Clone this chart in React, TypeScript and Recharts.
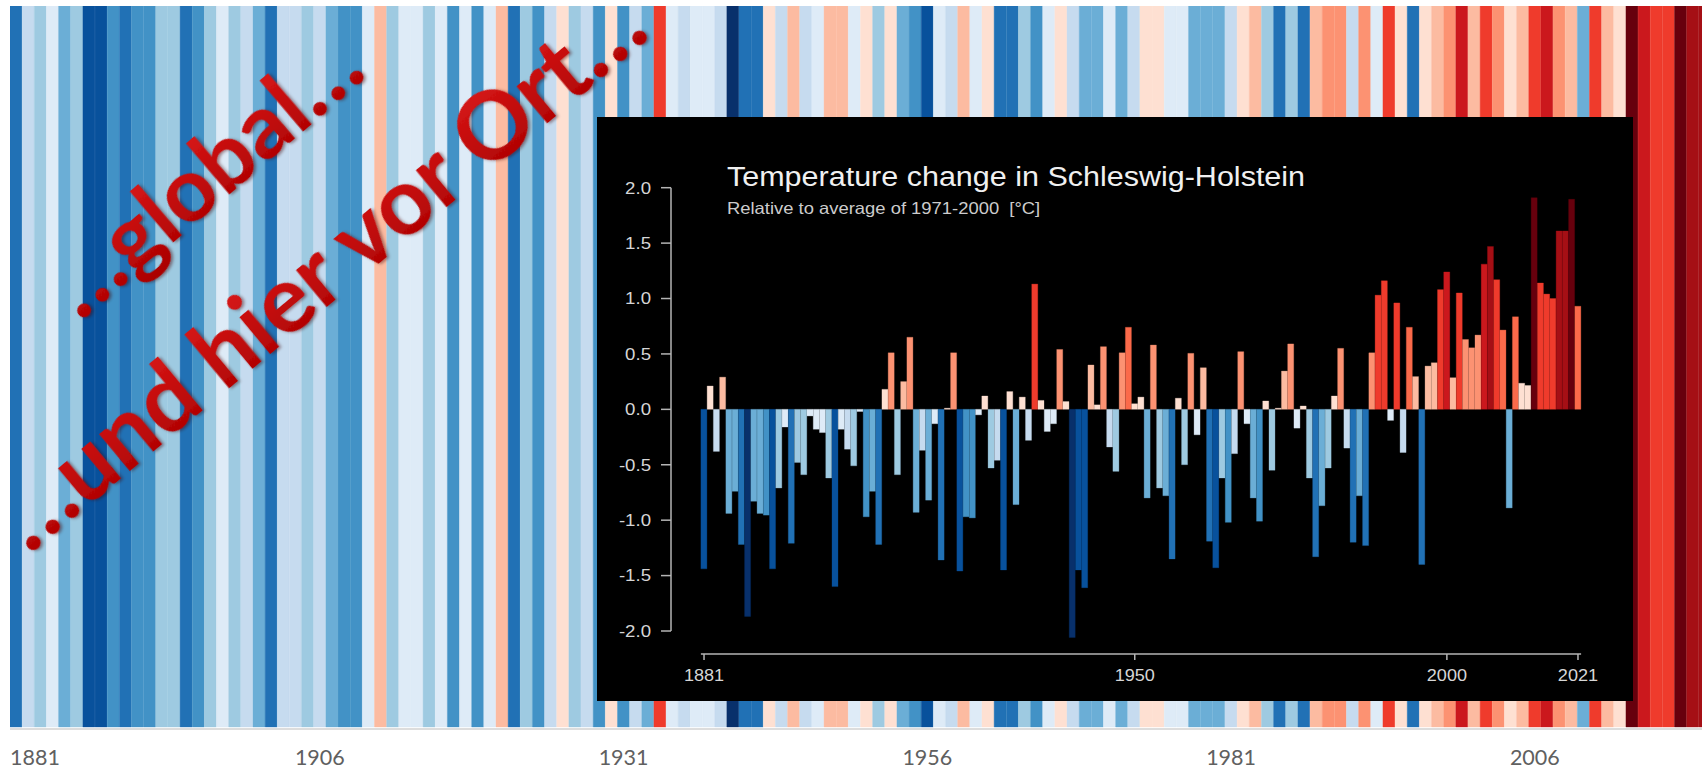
import React from 'react';
import { BarChart, Bar, XAxis, YAxis, Cell } from 'recharts';

// ---------- background warming stripes ----------
const stripeYears: number[] = [];
for (let y = 1881; y <= 2020; y++) stripeYears.push(y);

const stripeAnomaly: number[] = [
  -1.4, -0.4, -0.6, -0.1, -0.9, -0.6, -1.6, -1.65, -1.1, -1.35,
  -1.15, -1.05, -0.65, -0.6, -1.4, -1.1, -0.6, -0.15, -0.6, -0.4,
  -0.85, -1.3, -0.35, -0.4, -0.65, -0.4, -0.9, -1.1, -1.15, -0.2,
  0.35, -0.6, -0.15, -0.1, -0.55, -0.2, -1.1, -0.15, -1.15, -0.2,
  0.4, -1.4, -0.6, -1.1, -0.4, 0.15, -0.6, -0.35, -1.1, 0.1,
  -1.15, -0.4, -0.85, 1.1, -0.15, -0.35, -0.2, -0.15, -0.3, -1.9,
  -1.35, -1.4, 0.15, -0.35, 0.4, -0.4, -0.15, 0.4, 0.35, -0.2,
  0.1, -0.6, 0.15, -0.9, -1.1, -1.6, -0.15, -0.35, 0.4, -0.1,
  0.2, -1.4, -1.35, -0.6, -1.1, -0.15, 0.15, -0.4, -0.9, -0.85,
  -0.2, -0.9, -0.4, 0.15, 0.1, -0.15, -0.2, -0.9, -0.85, -0.9,
  -0.4, 0.2, 0.4, -0.6, -1.35, -0.6, -1.4, 0.45, 0.6, 0.65,
  -0.35, 0.6, -0.15, 1.1, 0.15, -1.3, 0.2, 0.4, 0.6, 1.35,
  0.4, 1.1, 0.65, 0.2, 0.4, 1.15, 1.4, 0.6, 0.45, -0.9,
  1.1, 0.4, 0.2, 1.9, 1.4, 1.15, 1.1, 1.85, 1.6, 1.65,
];
const stripeTickYears = [1881, 1906, 1931, 1956, 1981, 2006];

// ---------- inset: Schleswig-Holstein ----------
const insetYears: number[] = [];
for (let y = 1881; y <= 2021; y++) insetYears.push(y);

const insetAnomaly: number[] = [
  -1.44, 0.21, -0.38, 0.29, -0.94, -0.74, -1.22, -1.87, -0.83, -0.94,
  -0.955, -1.44, -0.71, -0.16, -1.21, -0.48, -0.59, -0.06, -0.18, -0.21,
  -0.62, -1.6, -0.18, -0.36, -0.51, -0.02, -0.97, -0.74, -1.22, 0.18,
  0.51, -0.59, 0.25, 0.65, -0.93, -0.37, -0.82, -0.13, -1.36, 0.01,
  0.51, -1.46, -0.97, -0.98, -0.05, 0.12, -0.53, -0.46, -1.45, 0.16,
  -0.86, 0.11, -0.28, 1.13, 0.08, -0.2, -0.13, 0.54, 0.07, -2.06,
  -1.45, -1.61, 0.4, 0.04, 0.565, -0.34, -0.56, 0.51, 0.74, 0.05,
  0.11, -0.8, 0.58, -0.71, -0.78, -1.35, 0.1, -0.5, 0.505, -0.23,
  0.375, -1.19, -1.43, -0.62, -1.02, -0.4, 0.52, -0.13, -0.8, -1.01,
  0.075, -0.55, 0.01, 0.345, 0.59, -0.17, 0.03, -0.62, -1.33, -0.87,
  -0.53, 0.12, 0.55, -0.35, -1.2, -0.78, -1.23, 0.51, 1.03, 1.16,
  -0.1, 0.96, -0.39, 0.74, 0.295, -1.4, 0.39, 0.42, 1.08, 1.24,
  0.285, 1.05, 0.63, 0.555, 0.67, 1.31, 1.47, 1.17, 0.715, -0.89,
  0.835, 0.235, 0.215, 1.91, 1.14, 1.04, 1.0, 1.61, 1.61, 1.895,
  0.93,
];
const insetXTicks = [1881, 1950, 2000, 2021];
const insetYTicks = [-2, -1.5, -1, -0.5, 0, 0.5, 1, 1.5, 2];

const insetTitle = 'Temperature change in Schleswig-Holstein';
const insetSubtitle = 'Relative to average of 1971-2000  [°C]';
const overlayTexts = ['\u2026global\u2026', '\u2026und hier vor Ort\u2026'];

// ---------- colour scale (stripes palette) ----------
const BLUES = ['#08306b', '#08519c', '#2171b5', '#4292c6', '#6baed6', '#9ecae1', '#c6dbef', '#deebf7'];
const REDS = ['#fee0d2', '#fcbba1', '#fc9272', '#fb6a4a', '#ef3b2c', '#cb181d', '#a50f15', '#67000d'];
function shade(v: number, limit: number): string {
  const step = limit / 8;
  if (v < 0) {
    const k = Math.min(7, Math.floor(-v / step));
    return BLUES[7 - k];
  }
  const k = Math.min(7, Math.floor(v / step));
  return REDS[k];
}

const stripeRows = stripeYears.map((year, i) => ({ year, anomaly: stripeAnomaly[i], band: 1 }));
const insetRows = insetYears.map((year, i) => ({ year, value: insetAnomaly[i] }));

const STRETCH = 1.13;
const INSET_FONT = '"Liberation Sans", Arial, Helvetica, sans-serif';

const StripeTick = (props: any) => {
  const { x, y, payload } = props;
  const first = payload.value === stripeTickYears[0];
  return (
    <text
      x={first ? x - 6 : x}
      y={y}
      dy="0.71em"
      textAnchor={first ? 'start' : 'middle'}
      fill="#606060"
      fontSize={21.5}
      fontFamily="Lato, sans-serif"
    >
      {payload.value}
    </text>
  );
};

const InsetXTick = (props: any) => {
  const { x, y, payload } = props;
  return (
    <text
      transform={`translate(${x},${y}) scale(${STRETCH},1)`}
      x={0}
      y={0}
      dy="0.71em"
      textAnchor="middle"
      fill="#d6d6d6"
      fontSize={16}
      fontFamily={INSET_FONT}
    >
      {payload.value}
    </text>
  );
};

const InsetYTick = (props: any) => {
  const { x, y, payload } = props;
  return (
    <text
      transform={`translate(${x},${y}) scale(${STRETCH},1)`}
      x={0}
      y={0}
      dy="0.355em"
      textAnchor="end"
      fill="#d6d6d6"
      fontSize={16.5}
      fontFamily={INSET_FONT}
    >
      {Number(payload.value).toFixed(1)}
    </text>
  );
};

export default function App() {
  return (
    <div
      style={{
        position: 'absolute',
        left: 0,
        top: 0,
        width: 1702,
        height: 770,
        overflow: 'hidden',
        background: '#ffffff',
      }}
    >
      {/* background stripes */}
      <div style={{ position: 'absolute', left: 10, top: 6 }}>
        <BarChart
          width={1701}
          height={764}
          data={stripeRows}
          margin={{ top: 0, right: 0, bottom: 0, left: 0 }}
          barCategoryGap={0}
          barGap={0}
        >
          <XAxis
            dataKey="year"
            ticks={stripeTickYears}
            interval={0}
            height={41}
            tickSize={0}
            tickMargin={21}
            tickLine={false}
            axisLine={{ stroke: '#d2d2d2', strokeWidth: 1.5 }}
            tick={<StripeTick />}
          />
          <YAxis hide domain={[-0.002774, 1]} allowDataOverflow />
          <Bar dataKey="band" isAnimationActive={false}>
            {stripeRows.map((r) => (
              <Cell key={r.year} fill={shade(r.anomaly, 2)} stroke={shade(r.anomaly, 2)} strokeWidth={0.4} />
            ))}
          </Bar>
        </BarChart>
      </div>

      {/* inset panel */}
      <div
        style={{
          position: 'absolute',
          left: 597,
          top: 117,
          width: 1036,
          height: 584,
          background: '#000000',
        }}
      >
        <svg width={1036} height={584} style={{ position: 'absolute', left: 0, top: 0 }}>
          <text
            transform={`translate(130,69) scale(${STRETCH},1)`}
            x={0}
            y={0}
            fill="#f0f0f0"
            fontSize={27}
            fontFamily={INSET_FONT}
          >
            {insetTitle}
          </text>
          <text
            transform={`translate(130,96.5) scale(${STRETCH},1)`}
            x={0}
            y={0}
            fill="#cccccc"
            fontSize={16.3}
            fontFamily={INSET_FONT}
            style={{ whiteSpace: 'pre' }}
          >
            {insetSubtitle}
          </text>
        </svg>

        {/* y axis (R style, spans -2..2 only) */}
        <div style={{ position: 'absolute', left: 0, top: 0 }}>
          <BarChart
            width={1036}
            height={584}
            data={insetRows}
            margin={{ top: 70.7, right: 52, bottom: 70, left: 0 }}
          >
            <XAxis dataKey="year" hide />
            <YAxis
              type="number"
              domain={[-2, 2]}
              allowDataOverflow
              ticks={insetYTicks}
              interval={0}
              width={74}
              tickSize={10}
              tickMargin={10}
              axisLine={{ stroke: '#b4b4b4', strokeWidth: 1.5 }}
              tickLine={{ stroke: '#b4b4b4', strokeWidth: 1.5 }}
              tick={<InsetYTick />}
            />
          </BarChart>
        </div>

        {/* bars + x axis */}
        <div style={{ position: 'absolute', left: 0, top: 0 }}>
          <BarChart
            width={1036}
            height={584}
            data={insetRows}
            margin={{ top: 70.7, right: 51.9, bottom: 0, left: 103.9 }}
            barCategoryGap={0}
            barGap={0}
          >
            <XAxis
              dataKey="year"
              ticks={insetXTicks}
              interval={0}
              height={47}
              tickSize={6}
              tickMargin={10}
              axisLine={{ stroke: '#b4b4b4', strokeWidth: 1.5 }}
              tickLine={{ stroke: '#b4b4b4', strokeWidth: 1.5 }}
              tick={<InsetXTick />}
            />
            <YAxis hide type="number" domain={[-2.2085, 2]} allowDataOverflow />
            <Bar dataKey="value" isAnimationActive={false}>
              {insetRows.map((r) => (
                <Cell key={r.year} fill={shade(r.value, 1.9)} stroke={shade(r.value, 1.9)} strokeWidth={0.3} />
              ))}
            </Bar>
          </BarChart>
        </div>
      </div>

      {/* rotated overlay captions */}
      <svg
        width={1702}
        height={770}
        style={{ position: 'absolute', left: 0, top: 0, pointerEvents: 'none' }}
      >
        <defs>
          <linearGradient id="capFill" x1="0" y1="0" x2="0" y2="1">
            <stop offset="0%" stopColor="#e01a1a" />
            <stop offset="100%" stopColor="#a80000" />
          </linearGradient>
          <filter id="capShadow" x="-30%" y="-60%" width="160%" height="220%">
            <feDropShadow dx="1.5" dy="2" stdDeviation="1.5" floodColor="#400000" floodOpacity="0.45" />
          </filter>
        </defs>
        <text
          x={80}
          y={322}
          transform="rotate(-40.5 80 322)"
          fontFamily="Lato, sans-serif"
          fontWeight={700}
          fontSize={90}
          fill="url(#capFill)"
          filter="url(#capShadow)"
        >
          {overlayTexts[0]}
        </text>
        <text
          x={29}
          y={555}
          transform="rotate(-39.8 29 555)"
          fontFamily="Lato, sans-serif"
          fontWeight={700}
          fontSize={94}
          fill="url(#capFill)"
          filter="url(#capShadow)"
        >
          {overlayTexts[1]}
        </text>
      </svg>
    </div>
  );
}
